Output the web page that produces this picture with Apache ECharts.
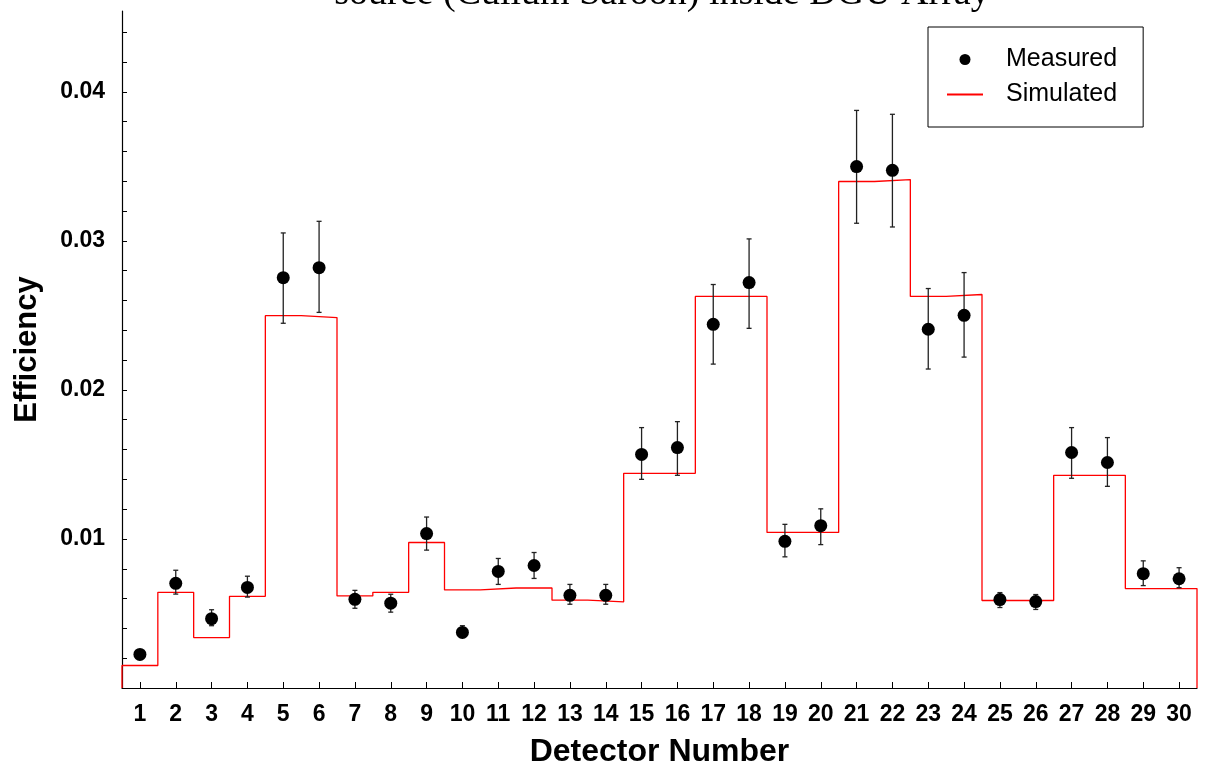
<!DOCTYPE html>
<html>
<head>
<meta charset="utf-8">
<script src="https://cdn.jsdelivr.net/npm/echarts@6/dist/echarts.min.js"></script>
<style>
html,body{margin:0;padding:0;background:#fff;}
#chart{width:1210px;height:773px;}
</style>
</head>
<body>
<div id="chart"></div>
<script>
const detectors = [1,2,3,4,5,6,7,8,9,10,11,12,13,14,15,16,17,18,19,20,21,22,23,24,25,26,27,28,29,30];
const measured = [0.00225,0.00702,0.00465,0.00675,0.02753,0.0282,0.00595,0.00569,0.01036,0.00373,
  0.00782,0.00822,0.00622,0.00622,0.01567,0.01613,0.0244,0.0272,0.00984,0.01089,
  0.03498,0.03473,0.02407,0.025,0.00593,0.0058,0.0158,0.01513,0.00767,0.00733];
const errHigh = [0.0024,0.0079,0.00525,0.0075,0.03053,0.03131,0.00655,0.00629,0.01147,0.00418,
  0.00869,0.00909,0.00695,0.00695,0.01747,0.01787,0.02707,0.03013,0.01098,0.01202,
  0.03875,0.03849,0.0268,0.02787,0.0064,0.00627,0.01747,0.0168,0.00853,0.00807];
const errLow = [0.0021,0.0063,0.00418,0.0061,0.02447,0.0252,0.00535,0.00509,0.00925,0.00347,
  0.00695,0.00735,0.00562,0.00562,0.0140,0.01427,0.02173,0.02413,0.0088,0.00962,
  0.03118,0.03093,0.0214,0.0222,0.0054,0.00527,0.01407,0.01353,0.00687,0.00673];
const simulated = [0.00151,0.00642,0.00338,0.00615,0.02498,0.02485,0.00618,0.00642,0.00976,0.00658,
  0.00671,0.00671,0.00589,0.00578,0.0144,0.0144,0.02627,0.02627,0.01044,0.01044,
  0.03398,0.03411,0.02627,0.0264,0.00587,0.00587,0.01427,0.01427,0.00667,0.00667];
const yLabelValues = [0.01,0.02,0.03,0.04];
const yTickValues = [0.002,0.004,0.006,0.008,0.01,0.012,0.014,0.016,0.018,0.02,0.022,0.024,0.026,0.028,0.03,0.032,0.034,0.036,0.038,0.04,0.042,0.044];
const titleText = 'source (Cullum Saroon) inside DGU Array';

// histogram outline built from the simulated values
const stepData = [[detectors[0]-0.5, 0]];
detectors.forEach((d,i)=>{ stepData.push([d-0.5, simulated[i]]); stepData.push([d+0.5, simulated[i]]); });
stepData.push([detectors[detectors.length-1]+0.5, 0]);

const measData = detectors.map((d,i)=>[d, measured[i]]);
const errData = detectors.map((d,i)=>[d, errLow[i], errHigh[i]]);

const chart = echarts.init(document.getElementById('chart'), null, {renderer:'canvas'});
const font = 'Liberation Sans, Arial, sans-serif';
chart.setOption({
  animation:false,
  backgroundColor:'#fff',
  graphic:[{
    type:'text', x:662, y:-25, z:10,
    style:{text:titleText, font:'38px "Liberation Serif", "Times New Roman", serif', fill:'#000', textAlign:'center', textVerticalAlign:'top'}
  }],
  grid:{left:122, right:13, top:11, bottom:82, containLabel:false},
  legend:{
    data:['Measured',{name:'Simulated', itemStyle:{opacity:0, borderWidth:0}}], orient:'vertical', left:928, top:27,
    padding:[20,26,20,18], itemGap:10, itemWidth:36, itemHeight:11,
    borderColor:'#000', borderWidth:1, backgroundColor:'#fff',
    formatter:'{a|{name}}',
    textStyle:{color:'#000', fontFamily:font, fontSize:25, lineHeight:24,
      rich:{a:{padding:[0,0,0,18], fontSize:25, fontFamily:font, color:'#000', lineHeight:24}}}
  },
  xAxis:{
    type:'value', min:0.5, max:30.5,
    name:'Detector Number', nameLocation:'middle', nameGap:48,
    nameTextStyle:{fontFamily:font, fontSize:32, fontWeight:'bold', color:'#000'},
    axisLine:{onZero:false, lineStyle:{color:'#000', width:1.2}},
    axisTick:{inside:true, length:6, customValues:detectors, lineStyle:{color:'#000', width:1}},
    axisLabel:{customValues:detectors, fontFamily:font, fontSize:23, fontWeight:'bold', color:'#000', margin:15},
    splitLine:{show:false}
  },
  yAxis:{
    type:'value', min:0, max:0.04542,
    name:'Efficiency', nameLocation:'middle', nameGap:79, nameRotate:90,
    nameTextStyle:{fontFamily:font, fontSize:31, fontWeight:'bold', color:'#000'},
    axisLine:{show:true, lineStyle:{color:'#000', width:1.2}},
    axisTick:{show:true, inside:true, length:5, customValues:yTickValues, lineStyle:{color:'#000', width:1}},
    axisLabel:{customValues:yLabelValues, formatter:v=>v.toFixed(2), fontFamily:font, fontSize:23, fontWeight:'bold', color:'#000', margin:17},
    splitLine:{show:false}
  },
  series:[
    {
      name:'Simulated', type:'line', data:stepData, symbol:'none', z:2,
      lineStyle:{color:'#ff0000', width:1.3}, itemStyle:{color:'#ff0000'}
    },
    {
      name:'Errors', type:'custom', data:errData, z:3,
      renderItem:function(params, api){
        const x = api.value(0);
        const lo = api.coord([x, api.value(1)]);
        const hi = api.coord([x, api.value(2)]);
        const w = 2.5;
        const st = {stroke:'#222', lineWidth:1.3};
        return {type:'group', children:[
          {type:'line', shape:{x1:hi[0], y1:hi[1], x2:lo[0], y2:lo[1]}, style:st},
          {type:'line', shape:{x1:hi[0]-w, y1:hi[1], x2:hi[0]+w, y2:hi[1]}, style:st},
          {type:'line', shape:{x1:lo[0]-w, y1:lo[1], x2:lo[0]+w, y2:lo[1]}, style:st}
        ]};
      }
    },
    {
      name:'Measured', type:'scatter', data:measData, symbol:'circle', symbolSize:13, z:4,
      itemStyle:{color:'#000', opacity:1}
    }
  ]
});
</script>
</body>
</html>
